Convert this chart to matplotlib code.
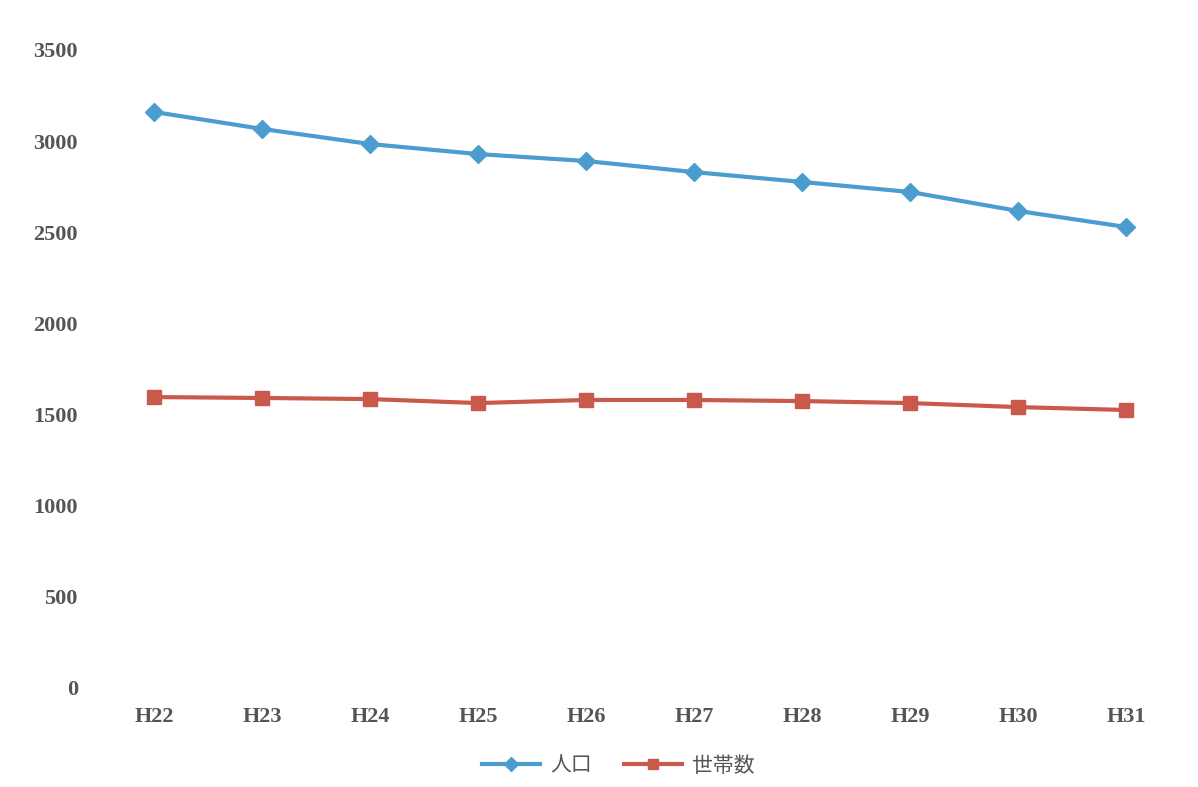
import matplotlib
matplotlib.use("Agg")
import matplotlib.pyplot as plt

years = ["H22", "H23", "H24", "H25", "H26", "H27", "H28", "H29", "H30", "H31"]
population = [3160, 3067, 2984, 2929, 2891, 2830, 2776, 2721, 2617, 2529]
households = [1596, 1591, 1585, 1563, 1580, 1580, 1574, 1563, 1541, 1525]
yticks = [0, 500, 1000, 1500, 2000, 2500, 3000, 3500]

fig = plt.figure(figsize=(11.98, 7.87), dpi=100)
ax = fig.add_axes([0.0835, 0.1258, 0.9015, 0.8107])

x = list(range(len(years)))
ax.plot(x, population, color="#4b9ccf", lw=3, marker="D", ms=9, label="人口")
ax.plot(x, households, color="#c8594b", lw=3, marker="s", ms=10, label="世帯数")

ax.set_xlim(-0.5, len(years) - 0.5)
ax.set_ylim(0, 3500)
ax.set_yticks(yticks)
ax.set_xticks(x)
ax.set_xticklabels(years)
for s in ax.spines.values():
    s.set_visible(False)
ax.tick_params(length=0, labelcolor="#555555", labelsize=16)
ax.tick_params(axis="y", pad=16)
ax.tick_params(axis="x", pad=14)
for lab in ax.get_xticklabels() + ax.get_yticklabels():
    lab.set_family(["Liberation Serif", "DejaVu Serif"])
    lab.set_fontweight("bold")

leg = ax.legend(loc="upper center", bbox_to_anchor=(0.48, -0.075), ncol=2,
                frameon=False, handlelength=2.8, columnspacing=1.5, markerscale=0.75,
                handletextpad=0.5,
                prop={"family": ["Noto Sans CJK JP", "DejaVu Sans"], "size": 15})
for t in leg.get_texts():
    t.set_color("#555555")

fig.savefig("out.png", dpi=100)
